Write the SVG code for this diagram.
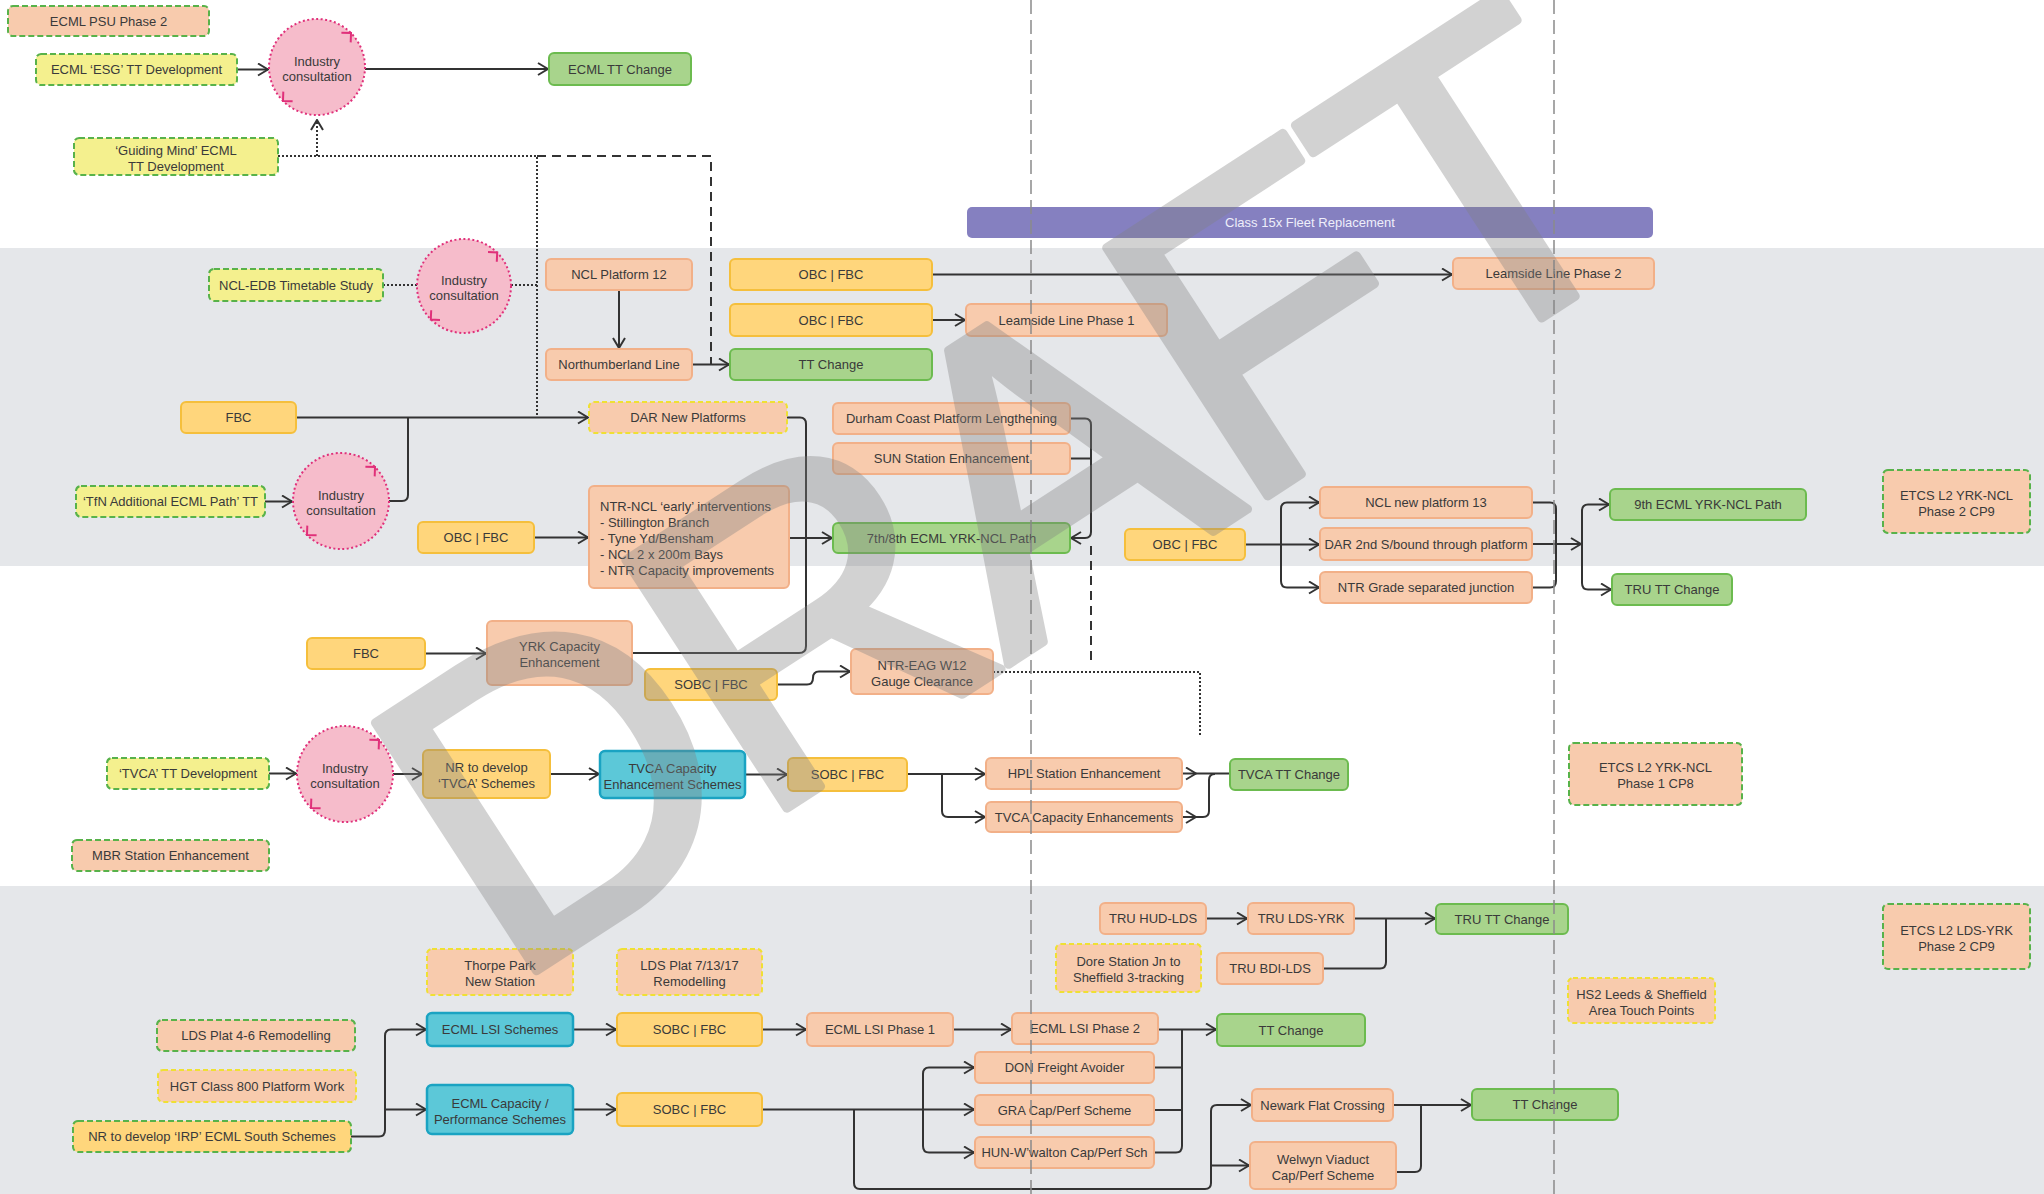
<svg xmlns="http://www.w3.org/2000/svg" width="2044" height="1194" viewBox="0 0 2044 1194">
<defs>
<style>
.t{font-family:"Liberation Sans",Arial,sans-serif;font-size:13px;fill:#3a3a3a;text-anchor:middle}
.tl{text-anchor:start}
.pe{fill:#f8cbad;stroke:#f2b088;stroke-width:2}
.or{fill:#ffd67c;stroke:#f5bf3c;stroke-width:2}
.gr{fill:#a8d48c;stroke:#6cbb4f;stroke-width:2}
.te{fill:#5cc8d8;stroke:#1aa3c2;stroke-width:2.5}
.yl{fill:#f4f08e}
.gd{stroke:#58b24a;stroke-width:2;stroke-dasharray:6 3}
.yd{stroke:#efe034;stroke-width:2;stroke-dasharray:5 3}
.ic{fill:#f6bccb;stroke:#e0307a;stroke-width:2;stroke-dasharray:2 2.5}
.cm{fill:none;stroke:#e0307a;stroke-width:2}
.c{fill:none;stroke:#333;stroke-width:2}
.dot{stroke-dasharray:2 2}
.dash{stroke-dasharray:9 6}
.grid{fill:none;stroke:#8a8a8a;stroke-width:1.5;stroke-dasharray:14 6}
</style>
<marker id="a" viewBox="0 0 12 14" refX="11" refY="7" markerWidth="12" markerHeight="14" orient="auto" markerUnits="userSpaceOnUse"><path d="M1,1 L11,7 L1,13" fill="none" stroke="#333" stroke-width="2"/></marker>
</defs>
<rect x="0" y="0" width="2044" height="1194" fill="#ffffff"/>
<g id="bands">
<rect x="0" y="248" width="2044" height="318" fill="#e5e7ea"/>
<rect x="0" y="886" width="2044" height="308" fill="#e5e7ea"/>
</g>
<g id="connectors">
<path class="c" d="M237,69.5 H268" marker-end="url(#a)"/>
<path class="c" d="M365,69 H548" marker-end="url(#a)"/>
<path class="c dot" d="M278,156 H537 V417"/>
<path class="c dot" d="M317,156 V120" marker-end="url(#a)"/>
<path class="c dash" d="M537,156 H711 V365"/>
<path class="c dot" d="M383,285 H417"/>
<path class="c dot" d="M511,285 H537"/>
<path class="c" d="M619,290 V348" marker-end="url(#a)"/>
<path class="c" d="M692,364.5 H729" marker-end="url(#a)"/>
<path class="c" d="M932,274.5 H1452" marker-end="url(#a)"/>
<path class="c" d="M932,320 H965" marker-end="url(#a)"/>
<path class="c" d="M296,417.5 H588" marker-end="url(#a)"/>
<path class="c" d="M389,501 H402 Q408,501 408,495 V417.5"/>
<path class="c" d="M265,501.5 H292" marker-end="url(#a)"/>
<path class="c" d="M534,537.5 H588" marker-end="url(#a)"/>
<path class="c" d="M787,417.5 H800 Q806,417.5 806,424 V646 Q806,653 799,653 H632"/>
<path class="c" d="M789,538 H832" marker-end="url(#a)"/>
<path class="c" d="M1070,418.5 H1085 Q1091,418.5 1091,425 V532 Q1091,538 1085,538 H1071" marker-end="url(#a)"/>
<path class="c" d="M1070,458.5 H1091"/>
<path class="c dash" d="M1091,546 V665"/>
<path class="c dot" d="M993,672 H1200 V735"/>
<path class="c" d="M777,684.5 H807 Q813,684.5 813,678 Q813,671.5 819,671.5 H850" marker-end="url(#a)"/>
<path class="c" d="M1245,544.5 H1319" marker-end="url(#a)"/>
<path class="c" d="M1281,544.5 V509 Q1281,502.5 1287,502.5 H1319" marker-end="url(#a)"/>
<path class="c" d="M1281,544.5 V581 Q1281,587.5 1287,587.5 H1319" marker-end="url(#a)"/>
<path class="c" d="M1532,502.5 H1550 Q1556,502.5 1556,509 V581 Q1556,587.5 1550,587.5 H1532"/>
<path class="c" d="M1532,544 H1581" marker-end="url(#a)"/>
<path class="c" d="M1582,544 V511 Q1582,504.5 1588,504.5 H1609" marker-end="url(#a)"/>
<path class="c" d="M1582,544 V583 Q1582,589.5 1588,589.5 H1611" marker-end="url(#a)"/>
<path class="c" d="M425,653.5 H486" marker-end="url(#a)"/>
<path class="c" d="M269,773.5 H296" marker-end="url(#a)"/>
<path class="c" d="M393,774 H422" marker-end="url(#a)"/>
<path class="c" d="M550,774 H599" marker-end="url(#a)"/>
<path class="c" d="M745,774.5 H787" marker-end="url(#a)"/>
<path class="c" d="M907,774 H985" marker-end="url(#a)"/>
<path class="c" d="M942,774 V811 Q942,817 948,817 H985" marker-end="url(#a)"/>
<path class="c" d="M1182,773.5 H1196" marker-end="url(#a)"/>
<path class="c" d="M1196,773.5 H1229"/>
<path class="c" d="M1182,817 H1196" marker-end="url(#a)"/>
<path class="c" d="M1196,817 H1203 Q1209,817 1209,811 V780 Q1209,774 1215,774"/>
<path class="c" d="M351,1136.5 H379 Q385,1136.5 385,1130 V1036 Q385,1029.5 391,1029.5 H426" marker-end="url(#a)"/>
<path class="c" d="M385,1109.5 H426" marker-end="url(#a)"/>
<path class="c" d="M573,1029.5 H616" marker-end="url(#a)"/>
<path class="c" d="M573,1109.5 H616" marker-end="url(#a)"/>
<path class="c" d="M762,1029.5 H806" marker-end="url(#a)"/>
<path class="c" d="M953,1029.5 H1011" marker-end="url(#a)"/>
<path class="c" d="M1158,1029.5 H1216" marker-end="url(#a)"/>
<path class="c" d="M1154,1067.5 H1182"/>
<path class="c" d="M1154,1110 H1182"/>
<path class="c" d="M1154,1152.5 H1176 Q1182,1152.5 1182,1146 V1029.5"/>
<path class="c" d="M762,1109.5 H974" marker-end="url(#a)"/>
<path class="c" d="M923,1109.5 V1074 Q923,1067.5 929,1067.5 H974" marker-end="url(#a)"/>
<path class="c" d="M923,1109.5 V1146 Q923,1152.5 929,1152.5 H974" marker-end="url(#a)"/>
<path class="c" d="M854,1109.5 V1183 Q854,1189 860,1189 H1205 Q1211,1189 1211,1183 V1111 Q1211,1105 1217,1105 H1251" marker-end="url(#a)"/>
<path class="c" d="M1211,1165.5 H1249" marker-end="url(#a)"/>
<path class="c" d="M1393,1105 H1471" marker-end="url(#a)"/>
<path class="c" d="M1396,1172 H1415 Q1421,1172 1421,1166 V1105"/>
<path class="c" d="M1206,918.5 H1247" marker-end="url(#a)"/>
<path class="c" d="M1354,918.5 H1435" marker-end="url(#a)"/>
<path class="c" d="M1323,968.5 H1380 Q1386,968.5 1386,962 V918.5"/>
</g>
<g id="n1"><rect class="pe gd" x="8" y="6" width="201" height="30" rx="5"/><text class="t" x="108.5" y="25.5">ECML PSU Phase 2</text></g>
<g id="n2"><rect class="yl gd" x="36" y="54" width="201" height="31" rx="5"/><text class="t" x="136.5" y="74">ECML ‘ESG’ TT Development</text></g>
<g id="c1"><circle class="ic" cx="317" cy="67" r="48"/><path class="cm" d="M341.4,32.7 L351,33 L350.7,42.4 M292.6,101.3 L283,101 L283.3,91.6"/><text class="t" x="317" y="66">Industry</text><text class="t" x="317" y="81">consultation</text></g>
<g id="n3"><rect class="gr" x="549" y="53" width="142" height="32" rx="5"/><text class="t" x="620" y="73.5">ECML TT Change</text></g>
<g id="n4"><rect class="yl gd" x="74" y="138" width="204" height="37" rx="5"/><text class="t" x="176" y="154.5">‘Guiding Mind’ ECML</text><text class="t" x="176" y="170.5">TT Development</text></g>
<g id="n5"><rect x="967" y="207" width="686" height="31" rx="5" fill="#8580c0"/><text class="t" x="1310" y="227" style="fill:#eeeefa">Class 15x Fleet Replacement</text></g>
<g id="n6"><rect class="yl gd" x="209" y="269" width="174" height="32" rx="5"/><text class="t" x="296" y="289.5">NCL-EDB Timetable Study</text></g>
<g id="c2"><circle class="ic" cx="464" cy="286" r="47"/><path class="cm" d="M488,252.1 L497.2,252.5 L496.8,261.7 M440,319.9 L430.8,319.5 L431.2,310.3"/><text class="t" x="464" y="285">Industry</text><text class="t" x="464" y="300">consultation</text></g>
<g id="n7"><rect class="pe" x="546" y="259" width="146" height="31" rx="5"/><text class="t" x="619" y="279">NCL Platform 12</text></g>
<g id="n8"><rect class="pe" x="546" y="349" width="146" height="31" rx="5"/><text class="t" x="619" y="369">Northumberland Line</text></g>
<g id="n9"><rect class="or" x="730" y="259" width="202" height="31" rx="5"/><text class="t" x="831" y="279">OBC | FBC</text></g>
<g id="n10"><rect class="or" x="730" y="304" width="202" height="32" rx="5"/><text class="t" x="831" y="324.5">OBC | FBC</text></g>
<g id="n11"><rect class="gr" x="730" y="349" width="202" height="31" rx="5"/><text class="t" x="831" y="369">TT Change</text></g>
<g id="n12"><rect class="pe" x="966" y="304" width="201" height="32" rx="5"/><text class="t" x="1066.5" y="324.5">Leamside Line Phase 1</text></g>
<g id="n13"><rect class="pe" x="1453" y="258" width="201" height="31" rx="5"/><text class="t" x="1553.5" y="278">Leamside Line Phase 2</text></g>
<g id="n14"><rect class="or" x="181" y="402" width="115" height="31" rx="5"/><text class="t" x="238.5" y="422">FBC</text></g>
<g id="n15"><rect class="pe yd" x="589" y="402" width="198" height="31" rx="5"/><text class="t" x="688" y="422">DAR New Platforms</text></g>
<g id="n16"><rect class="pe" x="833" y="403" width="237" height="31" rx="5"/><text class="t" x="951.5" y="423">Durham Coast Platform Lengthening</text></g>
<g id="n17"><rect class="pe" x="833" y="443" width="237" height="31" rx="5"/><text class="t" x="951.5" y="463">SUN Station Enhancement</text></g>
<g id="c3"><circle class="ic" cx="341" cy="501" r="48"/><path class="cm" d="M365.4,466.7 L375,467 L374.7,476.4 M316.6,535.3 L307,535 L307.3,525.6"/><text class="t" x="341" y="500">Industry</text><text class="t" x="341" y="515">consultation</text></g>
<g id="n18"><rect class="yl gd" x="76" y="486" width="189" height="31" rx="5"/><text class="t" x="170.5" y="506">‘TfN Additional ECML Path’ TT</text></g>
<g id="n19"><rect class="or" x="418" y="522" width="116" height="31" rx="5"/><text class="t" x="476" y="542">OBC | FBC</text></g>
<g id="n20"><rect class="pe" x="589" y="486" width="200" height="102" rx="5"/><text class="t tl" x="600" y="511">NTR-NCL ‘early’ interventions</text><text class="t tl" x="600" y="527">- Stillington Branch</text><text class="t tl" x="600" y="543">- Tyne Yd/Bensham</text><text class="t tl" x="600" y="559">- NCL 2 x 200m Bays</text><text class="t tl" x="600" y="575">- NTR Capacity improvements</text></g>
<g id="n21"><rect class="gr" x="833" y="523" width="237" height="30" rx="5"/><text class="t" x="951.5" y="542.5">7th/8th ECML YRK-NCL Path</text></g>
<g id="n22"><rect class="or" x="1125" y="529" width="120" height="31" rx="5"/><text class="t" x="1185" y="549">OBC | FBC</text></g>
<g id="n23"><rect class="pe" x="1320" y="487" width="212" height="31" rx="5"/><text class="t" x="1426" y="507">NCL new platform 13</text></g>
<g id="n24"><rect class="pe" x="1320" y="528" width="212" height="32" rx="5"/><text class="t" x="1426" y="548.5">DAR 2nd S/bound through platform</text></g>
<g id="n25"><rect class="pe" x="1320" y="572" width="212" height="31" rx="5"/><text class="t" x="1426" y="592">NTR Grade separated junction</text></g>
<g id="n26"><rect class="gr" x="1610" y="489" width="196" height="31" rx="5"/><text class="t" x="1708" y="509">9th ECML YRK-NCL Path</text></g>
<g id="n27"><rect class="gr" x="1612" y="574" width="120" height="31" rx="5"/><text class="t" x="1672" y="594">TRU TT Change</text></g>
<g id="n28"><rect class="pe gd" x="1883" y="470" width="147" height="63" rx="5"/><text class="t" x="1956.5" y="499.5">ETCS L2 YRK-NCL</text><text class="t" x="1956.5" y="515.5">Phase 2 CP9</text></g>
<g id="n29"><rect class="or" x="307" y="638" width="118" height="31" rx="5"/><text class="t" x="366" y="658">FBC</text></g>
<g id="n30"><rect class="pe" x="487" y="621" width="145" height="64" rx="5"/><text class="t" x="559.5" y="651">YRK Capacity</text><text class="t" x="559.5" y="667">Enhancement</text></g>
<g id="n31"><rect class="or" x="645" y="669" width="132" height="31" rx="5"/><text class="t" x="711" y="689">SOBC | FBC</text></g>
<g id="n32"><rect class="pe" x="851" y="649" width="142" height="45" rx="5"/><text class="t" x="922" y="669.5">NTR-EAG W12</text><text class="t" x="922" y="685.5">Gauge Clearance</text></g>
<g id="n33"><rect class="yl gd" x="107" y="758" width="162" height="31" rx="5"/><text class="t" x="188" y="778">‘TVCA’ TT Development</text></g>
<g id="c4"><circle class="ic" cx="345" cy="774" r="48"/><path class="cm" d="M369.4,739.7 L379,740 L378.7,749.4 M320.6,808.3 L311,808 L311.3,798.6"/><text class="t" x="345" y="773">Industry</text><text class="t" x="345" y="788">consultation</text></g>
<g id="n34"><rect class="or" x="423" y="750" width="127" height="48" rx="5"/><text class="t" x="486.5" y="772">NR to develop</text><text class="t" x="486.5" y="788">‘TVCA’ Schemes</text></g>
<g id="n35"><rect class="te" x="600" y="751" width="145" height="47" rx="5"/><text class="t" x="672.5" y="772.5">TVCA Capacity</text><text class="t" x="672.5" y="788.5">Enhancement Schemes</text></g>
<g id="n36"><rect class="or" x="788" y="758" width="119" height="33" rx="5"/><text class="t" x="847.5" y="779">SOBC | FBC</text></g>
<g id="n37"><rect class="pe" x="986" y="758" width="196" height="31" rx="5"/><text class="t" x="1084" y="778">HPL Station Enhancement</text></g>
<g id="n38"><rect class="pe" x="986" y="802" width="196" height="30" rx="5"/><text class="t" x="1084" y="821.5">TVCA Capacity Enhancements</text></g>
<g id="n39"><rect class="gr" x="1230" y="759" width="118" height="31" rx="5"/><text class="t" x="1289" y="779">TVCA TT Change</text></g>
<g id="n40"><rect class="pe gd" x="1569" y="743" width="173" height="62" rx="5"/><text class="t" x="1655.5" y="772">ETCS L2 YRK-NCL</text><text class="t" x="1655.5" y="788">Phase 1 CP8</text></g>
<g id="n41"><rect class="pe gd" x="72" y="840" width="197" height="31" rx="5"/><text class="t" x="170.5" y="860">MBR Station Enhancement</text></g>
<g id="n42"><rect class="pe" x="1100" y="903" width="106" height="31" rx="5"/><text class="t" x="1153" y="923">TRU HUD-LDS</text></g>
<g id="n43"><rect class="pe" x="1248" y="903" width="106" height="31" rx="5"/><text class="t" x="1301" y="923">TRU LDS-YRK</text></g>
<g id="n44"><rect class="gr" x="1436" y="904" width="132" height="30" rx="5"/><text class="t" x="1502" y="923.5">TRU TT Change</text></g>
<g id="n45"><rect class="pe gd" x="1883" y="904" width="147" height="65" rx="5"/><text class="t" x="1956.5" y="934.5">ETCS L2 LDS-YRK</text><text class="t" x="1956.5" y="950.5">Phase 2 CP9</text></g>
<g id="n46"><rect class="pe yd" x="427" y="949" width="146" height="46" rx="5"/><text class="t" x="500" y="970">Thorpe Park</text><text class="t" x="500" y="986">New Station</text></g>
<g id="n47"><rect class="pe yd" x="617" y="949" width="145" height="46" rx="5"/><text class="t" x="689.5" y="970">LDS Plat 7/13/17</text><text class="t" x="689.5" y="986">Remodelling</text></g>
<g id="n48"><rect class="pe yd" x="1056" y="944" width="145" height="48" rx="5"/><text class="t" x="1128.5" y="966">Dore Station Jn to</text><text class="t" x="1128.5" y="982">Sheffield 3-tracking</text></g>
<g id="n49"><rect class="pe" x="1217" y="953" width="106" height="31" rx="5"/><text class="t" x="1270" y="973">TRU BDI-LDS</text></g>
<g id="n50"><rect class="pe yd" x="1568" y="978" width="147" height="45" rx="5"/><text class="t" x="1641.5" y="998.5">HS2 Leeds &amp; Sheffield</text><text class="t" x="1641.5" y="1014.5">Area Touch Points</text></g>
<g id="n51"><rect class="pe gd" x="157" y="1020" width="198" height="31" rx="5"/><text class="t" x="256" y="1040">LDS Plat 4-6 Remodelling</text></g>
<g id="n52"><rect class="pe yd" x="158" y="1070" width="198" height="32" rx="5"/><text class="t" x="257" y="1090.5">HGT Class 800 Platform Work</text></g>
<g id="n53"><rect class="or gd" x="73" y="1121" width="278" height="31" rx="5"/><text class="t" x="212" y="1141">NR to develop ‘IRP’ ECML South Schemes</text></g>
<g id="n54"><rect class="te" x="427" y="1013" width="146" height="33" rx="5"/><text class="t" x="500" y="1034">ECML LSI Schemes</text></g>
<g id="n55"><rect class="te" x="427" y="1085" width="146" height="49" rx="5"/><text class="t" x="500" y="1107.5">ECML Capacity /</text><text class="t" x="500" y="1123.5">Performance Schemes</text></g>
<g id="n56"><rect class="or" x="617" y="1013" width="145" height="33" rx="5"/><text class="t" x="689.5" y="1034">SOBC | FBC</text></g>
<g id="n57"><rect class="or" x="617" y="1093" width="145" height="33" rx="5"/><text class="t" x="689.5" y="1114">SOBC | FBC</text></g>
<g id="n58"><rect class="pe" x="807" y="1013" width="146" height="33" rx="5"/><text class="t" x="880" y="1034">ECML LSI Phase 1</text></g>
<g id="n59"><rect class="pe" x="1012" y="1013" width="146" height="31" rx="5"/><text class="t" x="1085" y="1033">ECML LSI Phase 2</text></g>
<g id="n60"><rect class="gr" x="1217" y="1014" width="148" height="32" rx="5"/><text class="t" x="1291" y="1034.5">TT Change</text></g>
<g id="n61"><rect class="pe" x="975" y="1052" width="179" height="31" rx="5"/><text class="t" x="1064.5" y="1072">DON Freight Avoider</text></g>
<g id="n62"><rect class="pe" x="975" y="1095" width="179" height="30" rx="5"/><text class="t" x="1064.5" y="1114.5">GRA Cap/Perf Scheme</text></g>
<g id="n63"><rect class="pe" x="975" y="1137" width="179" height="31" rx="5"/><text class="t" x="1064.5" y="1157">HUN-W’walton Cap/Perf Sch</text></g>
<g id="n64"><rect class="pe" x="1252" y="1089" width="141" height="32" rx="5"/><text class="t" x="1322.5" y="1109.5">Newark Flat Crossing</text></g>
<g id="n65"><rect class="pe" x="1250" y="1142" width="146" height="47" rx="5"/><text class="t" x="1323" y="1163.5">Welwyn Viaduct</text><text class="t" x="1323" y="1179.5">Cap/Perf Scheme</text></g>
<g id="n66"><rect class="gr" x="1472" y="1089" width="146" height="31" rx="5"/><text class="t" x="1545" y="1109">TT Change</text></g>
<g id="grid">
<path class="grid" d="M1031,0 V1194"/>
<path class="grid" d="M1554,0 V1194"/>
</g>
<g id="watermark" opacity="0.35">
<text x="0" y="0" transform="translate(507,990) rotate(-33)" font-family="Liberation Sans, Arial, sans-serif" font-size="430" letter-spacing="-12" fill="#808080" stroke="#808080" stroke-width="9" stroke-linejoin="round">DRAFT</text>
</g>
</svg>
